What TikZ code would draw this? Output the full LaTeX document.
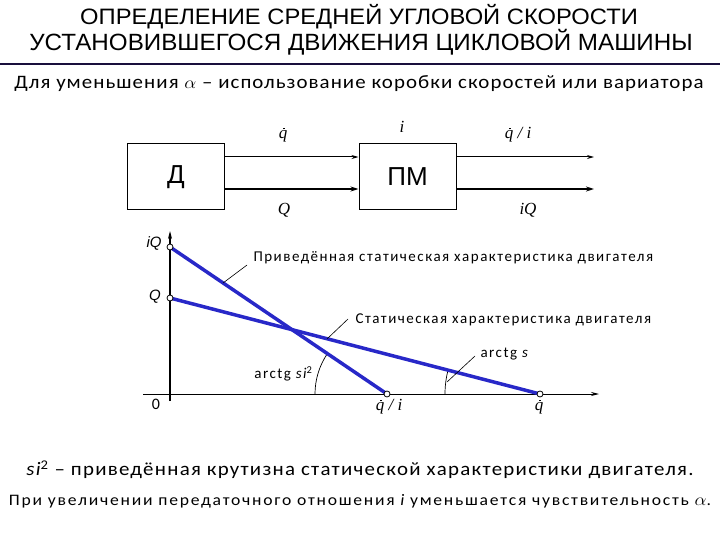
\documentclass[tikz,border=0pt]{standalone}
\usepackage{fontspec}
\setmainfont{Carlito}
\newfontfamily\titlefont{Liberation Sans}
\newfontfamily\serfont{Liberation Serif}
\newfontfamily\annfont[LetterSpace=10]{Carlito}
\newfontfamily\subfont[LetterSpace=5]{Carlito}
\newfontfamily\bfontA[LetterSpace=6]{Carlito}
\newfontfamily\bfontB[LetterSpace=10]{Carlito}
\usetikzlibrary{arrows.meta,calc}
\definecolor{lineblue}{RGB}{40,40,200}
\definecolor{navyline}{RGB}{25,15,60}
\newcommand\qdot{\hbox{q\llap{\raisebox{0.55em}{\rule{1.6pt}{1.6pt}}\kern0.14em}}}
\newcommand\fs[1]{\fontsize{#1}{#1}\selectfont}
\begin{document}
\begin{tikzpicture}[x=1pt,y=-1pt,
  titletxt/.style={font=\titlefont\fs{22.3}},
  blockbox/.style={draw,line width=1pt,minimum width=97pt,minimum height=66pt,font=\titlefont\fs{26}},
  arrthin/.style={line width=1pt,-{Stealth[length=7pt,width=4pt]}},
  arrthick/.style={line width=2pt,-{Stealth[length=8pt,width=5pt]}},
  sig/.style={font=\serfont\itshape\fs{17}},
  axlab/.style={font=\titlefont\itshape\fs{15}},
  bluel/.style={lineblue,line width=3.5pt},
  ptc/.style={circle,draw,fill=white,inner sep=0pt,minimum size=6pt,line width=0.8pt},
  anntxt/.style={font=\annfont\fs{15},anchor=west},
  leader/.style={line width=0.6pt}]
\useasboundingbox (0,0) rectangle (720,540);

% title
\node[titletxt] (t1) at (359,17) {\scalebox{1.065}[1]{ОПРЕДЕЛЕНИЕ СРЕДНЕЙ УГЛОВОЙ СКОРОСТИ}};
\node[titletxt,font=\titlefont\fs{23.5}] (t2) at (361,42) {\scalebox{1.03}[1]{УСТАНОВИВШЕГОСЯ ДВИЖЕНИЯ ЦИКЛОВОЙ МАШИНЫ}};
\coordinate (sepL) at (0,64);
\coordinate (sepR) at (720,64);
\draw[navyline,line width=2.2pt] (sepL) -- (sepR);
\node[font=\subfont\fs{19}] (sub) at (359,84) {\scalebox{1.1}[1]{Для уменьшения $\alpha$ – использование коробки скоростей или вариатора}};

% block diagram
\node[blockbox] (D) at (176,177) {Д};
\node[blockbox] (PM) at (407.5,177) {ПМ};
\coordinate (o1) at (594,157);
\coordinate (o2) at (594,189);
\draw[arrthin] ([yshift=20pt]D.east) -- ([yshift=20pt]PM.west);
\draw[arrthick] ([yshift=-12pt]D.east) -- ([yshift=-12pt]PM.west);
\draw[arrthin] ([yshift=20pt]PM.east) -- (o1);
\draw[arrthick] ([yshift=-12pt]PM.east) -- (o2);
\node[sig] (lq) at (283,135) {\qdot};
\node[sig] (li) at (402,127) {i};
\node[sig] (lqi) at (518,135) {\qdot\ /\ i};
\node[sig] (lQ) at (284,210) {Q};
\node[sig] (liQ) at (528,210) {iQ};

% graph axes
\coordinate (ybot) at (170,401);
\coordinate (ytop) at (170,231);
\coordinate (xl) at (143,394);
\coordinate (xr) at (599,394);
\draw[line width=1.2pt,-{Stealth[length=8pt,width=4pt]}] (ybot) -- (ytop);
\draw[line width=1pt,-{Stealth[length=8pt,width=4pt]}] (xl) -- (xr);

\coordinate (piQ) at (170,247);
\coordinate (pQ) at (170,298);
\coordinate (pqi) at (387,394);
\coordinate (pq) at (540,394);

% angle arcs
\draw[line width=0.7pt] ($(pqi)+(-72,0)$) arc[start angle=180,end angle=145.9,radius=72pt];
\draw[line width=0.7pt] ($(pq)+(-95,0)$) arc[start angle=180,end angle=165.4,radius=95pt];

% blue characteristics
\draw[bluel] (piQ) -- (pqi);
\draw[bluel] (pQ) -- (pq);
\node[ptc] (ciQ) at (piQ) {};
\node[ptc] (cQ) at (pQ) {};
\node[ptc] (cqi) at (pqi) {};
\node[ptc] (cq) at (pq) {};

% axis labels
\node[axlab] (aiQ) at (154,243) {iQ};
\node[axlab] (aQ) at (155,297) {Q};
\node[font=\fs{16}] (a0) at (156,404) {0};
\node[sig] (aqi) at (389,407) {\qdot\ /\ i};
\node[sig] (aq) at (539,407) {\qdot};

% annotations
\coordinate (l1a) at (223,283);
\coordinate (l1b) at (247,265);
\draw[leader] (l1a) -- (l1b);
\node[anntxt] (ann1) at (250,258) {Приведённая статическая характеристика двигателя};
\coordinate (l2a) at (327,339);
\coordinate (l2b) at (348,319);
\draw[leader] (l2a) -- (l2b);
\node[anntxt] (ann2) at (352,320) {Статическая характеристика двигателя};
\coordinate (l3a) at (447,382);
\coordinate (l3b) at (475,356);
\draw[leader] (l3a) -- (l3b);
\node[anntxt] (ann3) at (477,354) {arctg {\itshape s}};
\node[font=\annfont\fs{15},anchor=east] (ann4) at (316,374) {arctg {\itshape si}\textsuperscript{2}};

% bottom text
\node[font=\bfontA\fs{19}] (b1) at (360,470) {\scalebox{1.1}[1]{{\itshape si}\textsuperscript{2} – приведённая крутизна статической характеристики двигателя.}};
\node[font=\bfontB\fs{16}] (b2) at (360,501) {\scalebox{1.1}[1]{При увеличении передаточного отношения {\itshape i} уменьшается чувствительность $\alpha$.}};
\end{tikzpicture}
\end{document}
